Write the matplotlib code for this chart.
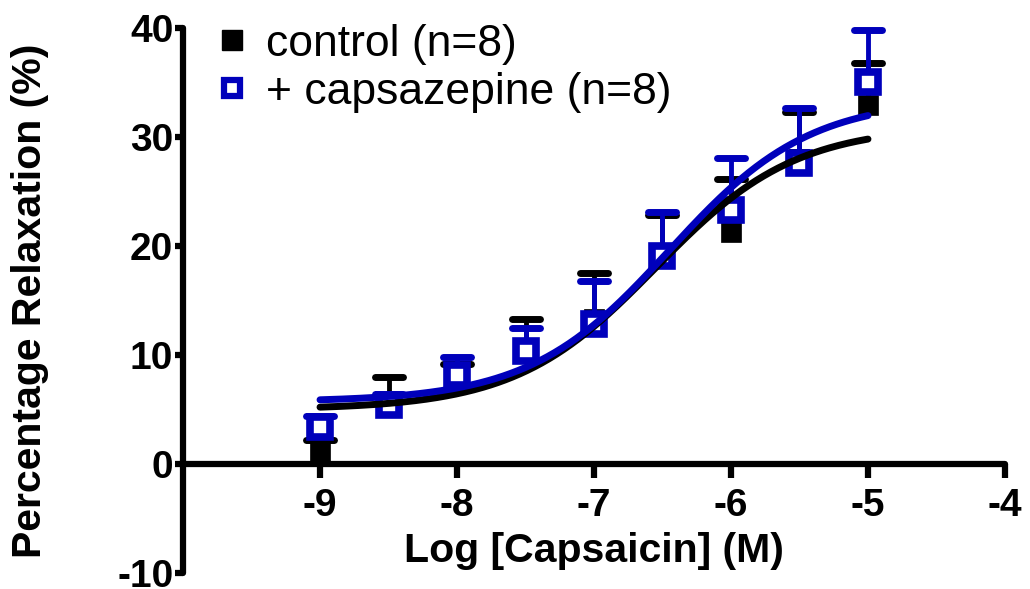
import matplotlib
matplotlib.use("Agg")
import matplotlib.pyplot as plt
from matplotlib.markers import MarkerStyle
import numpy as np

# log molar capsaicin concentrations
log_conc = [-9, -8.5, -8, -7.5, -7, -6.5, -6, -5.5, -5]

# mean relaxation (%) and SEM
ctrl_mean = [1.2, 5.2, 7.8, 10.4, 13.3, 19.0, 21.3, 28.0, 32.9]
ctrl_sem = [1.0, 2.8, 1.4, 2.9, 4.2, 3.8, 4.8, 4.3, 3.9]
cpz_mean = [3.4, 5.4, 8.2, 10.4, 12.8, 19.1, 23.3, 27.6, 35.0]
cpz_sem = [1.0, 1.0, 1.6, 2.1, 4.0, 4.0, 4.8, 5.1, 4.8]

# sigmoidal fit parameters: bottom, top, logEC50, hill slope
ctrl_fit = [5.0, 31.0, -6.55, 0.85]
cpz_fit = [5.7, 33.5, -6.45, 0.85]

labels = ["control (n=8)", "+ capsazepine (n=8)"]
blue = "#0000BB"

plt.rcParams["font.family"] = ["Liberation Sans", "DejaVu Sans"]
plt.rcParams["axes.unicode_minus"] = False


def sigmoid(x, p):
    bottom, top, ec50, hill = p
    return bottom + (top - bottom) / (1 + 10 ** ((ec50 - x) * hill))


fig = plt.figure(figsize=(10.3, 5.89), dpi=100)
ax = fig.add_axes([0.1777, 0.0272, 0.798, 0.9253])

# upward-only error bars with rounded caps
def draw_errors(x, m, s, color, z):
    top = np.array(m) + np.array(s)
    ax.vlines(x, m, top, colors=color, lw=3.5, zorder=z, clip_on=False)
    ax.plot(x, top, ls="none", marker=MarkerStyle("_", capstyle="round"),
            ms=20, mew=5, color=color, zorder=z, clip_on=False)

draw_errors(log_conc, ctrl_mean, ctrl_sem, "black", 2)
ax.plot(log_conc, ctrl_mean, ls="none", marker="s", ms=14, color="black",
        mec="black", mew=0.5, zorder=3, clip_on=False)
draw_errors(log_conc, cpz_mean, cpz_sem, blue, 4)
ax.plot(log_conc, cpz_mean, ls="none", marker="s", ms=14, mfc="white",
        mec=blue, mew=5.5, zorder=5, clip_on=False)

xs = np.linspace(log_conc[0], log_conc[-1], 300)
ax.plot(xs, sigmoid(xs, ctrl_fit), color="black", lw=5,
        solid_capstyle="round", zorder=6, clip_on=False)
ax.plot(xs, sigmoid(xs, cpz_fit), color=blue, lw=5,
        solid_capstyle="round", zorder=7, clip_on=False)

ax.set_xlim(-10, -4)
ax.set_ylim(-10, 40)
ax.set_xticks([-9, -8, -7, -6, -5, -4])
ax.set_yticks([-10, 0, 10, 20, 30, 40])

ax.spines["top"].set_visible(False)
ax.spines["right"].set_visible(False)
ax.spines["bottom"].set_position(("data", 0))
for sp in ("left", "bottom"):
    ax.spines[sp].set_linewidth(4.5)
    ax.spines[sp].set_capstyle("round")

ax.tick_params(axis="x", direction="out", length=10, width=4.5, pad=7,
               labelsize=28)
ax.tick_params(axis="y", direction="out", length=6, width=4.5, pad=1,
               labelsize=28)
for t in ax.get_xticklabels() + ax.get_yticklabels():
    t.set_fontweight("bold")

ax.set_xlabel("Log [Capsaicin] (M)", fontsize=29.5, fontweight="bold")
ax.xaxis.set_label_coords(0.5, 0.075)
ax.set_ylabel("Percentage Relaxation (%)", fontsize=29.5, fontweight="bold")
ax.yaxis.set_label_coords(-0.163, 0.5)

h1 = plt.Line2D([], [], ls="none", marker="s", ms=14, color="black")
h2 = plt.Line2D([], [], ls="none", marker="s", ms=12, mfc="white",
                mec=blue, mew=4.5)
ax.legend([h1, h2], labels, loc="upper left", bbox_to_anchor=(0.022, 1.04),
          frameon=False, fontsize=32, handlelength=0.6, handletextpad=0.45,
          labelspacing=0.15, borderaxespad=0)

fig.savefig("out.png", dpi=100)
